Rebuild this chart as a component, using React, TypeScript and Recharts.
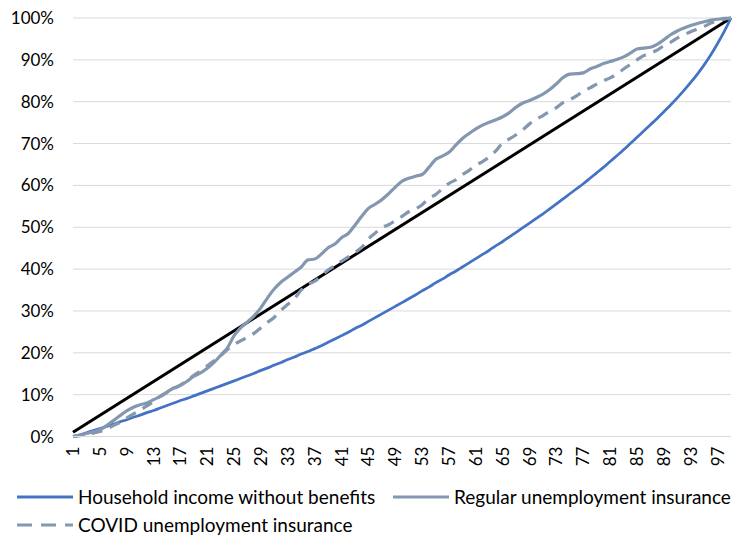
import React from "react";
import { LineChart, Line, XAxis, YAxis, CartesianGrid } from "recharts";

const percentiles = [
  1, 2, 3, 4, 5, 6, 7, 8, 9, 10, 11, 12, 13, 14, 15, 16, 17, 18, 19, 20,
  21, 22, 23, 24, 25, 26, 27, 28, 29, 30, 31, 32, 33, 34, 35, 36, 37, 38, 39, 40,
  41, 42, 43, 44, 45, 46, 47, 48, 49, 50, 51, 52, 53, 54, 55, 56, 57, 58, 59, 60,
  61, 62, 63, 64, 65, 66, 67, 68, 69, 70, 71, 72, 73, 74, 75, 76, 77, 78, 79, 80,
  81, 82, 83, 84, 85, 86, 87, 88, 89, 90, 91, 92, 93, 94, 95, 96, 97, 98, 99,
];

const householdIncome = [
  0, 0.4, 0.9, 1.4, 1.9, 2.4, 2.9, 3.5, 4.0, 4.6, 5.1, 5.7, 6.2, 6.8, 7.4, 8.0, 8.6, 9.1, 9.7, 10.3,
  10.9, 11.5, 12.1, 12.7, 13.3, 13.9, 14.5, 15.1, 15.8, 16.4, 17.1, 17.7, 18.4, 19.0, 19.7, 20.3, 21.0, 21.7, 22.5, 23.3,
  24.1, 24.9, 25.8, 26.6, 27.5, 28.4, 29.3, 30.2, 31.1, 32.0, 32.9, 33.8, 34.8, 35.7, 36.7, 37.6, 38.6, 39.5, 40.5, 41.5,
  42.5, 43.5, 44.5, 45.6, 46.6, 47.7, 48.8, 49.9, 51.0, 52.1, 53.2, 54.4, 55.6, 56.8, 58.0, 59.2, 60.4, 61.7, 63.0, 64.3,
  65.7, 67.1, 68.5, 70.0, 71.5, 73.0, 74.5, 76.0, 77.6, 79.2, 80.9, 82.7, 84.6, 86.6, 88.8, 91.2, 93.9, 96.8, 100,
];

const regularUI = [
  0, 0.3, 0.7, 1.1, 1.6, 2.6, 3.8, 5.0, 6.1, 7.0, 7.6, 8.0, 8.8, 9.6, 10.6, 11.6, 12.2, 13.2, 14.4, 15.2,
  16.3, 17.7, 19.4, 21.2, 24.1, 26.0, 27.4, 28.9, 30.8, 33.2, 35.3, 36.9, 38.1, 39.3, 40.5, 42.2, 42.4, 43.6, 45.1, 46.0,
  47.5, 48.5, 50.5, 52.6, 54.5, 55.5, 56.6, 58.0, 59.6, 61.0, 61.7, 62.2, 62.6, 64.3, 66.2, 67.0, 67.9, 69.6, 71.2, 72.4,
  73.5, 74.4, 75.1, 75.7, 76.4, 77.4, 78.7, 79.7, 80.3, 81.0, 81.8, 82.9, 84.3, 85.8, 86.6, 86.7, 86.9, 87.8, 88.4, 89.1,
  89.6, 90.1, 90.7, 91.6, 92.6, 92.8, 93.0, 93.7, 94.8, 96.0, 96.9, 97.6, 98.2, 98.7, 99.1, 99.5, 99.7, 99.9, 100,
];

const covidUI = [
  0, 0.2, 0.5, 0.8, 1.2, 1.8, 2.6, 3.4, 4.4, 5.4, 6.3, 7.3, 8.4, 9.6, 10.5, 11.4, 12.3, 13.4, 14.6, 15.7,
  16.9, 18.1, 19.3, 20.8, 22.0, 22.9, 23.7, 24.7, 26.0, 27.3, 28.5, 30.2, 31.6, 33.0, 35.0, 36.4, 37.1, 38.4, 39.8, 40.8,
  41.9, 42.9, 44.0, 45.2, 47.2, 48.6, 49.9, 50.6, 51.6, 52.6, 53.7, 54.4, 55.4, 56.9, 57.8, 59.2, 60.5, 61.3, 62.6, 63.6,
  64.8, 65.7, 66.8, 68.3, 70.2, 71.1, 72.1, 73.3, 74.7, 75.8, 76.7, 77.7, 78.6, 79.8, 80.5, 81.4, 82.5, 83.3, 84.2, 85.0,
  85.7, 86.6, 87.8, 88.9, 90.0, 91.0, 91.6, 92.3, 93.4, 94.2, 95.2, 96.0, 96.7, 97.4, 98.0, 98.8, 99.3, 99.7, 100,
];

// Line of equality: only its two end values, joined by connectNulls
const equalityEnds = [1, 100];

const yTicks = [0, 10, 20, 30, 40, 50, 60, 70, 80, 90, 100];

const seriesNames = [
  "Household income without benefits",
  "Regular unemployment insurance",
  "COVID unemployment insurance",
];

const BLUE = "#4472C4";
const GRAY = "#8497B0";
const FONT = "Lato, 'Noto Sans', sans-serif";

const data = percentiles.map((p, i) => ({
  p,
  household: householdIncome[i],
  regular: regularUI[i],
  covid: covidUI[i],
  equality: i === 0 ? equalityEnds[0] : i === percentiles.length - 1 ? equalityEnds[1] : null,
}));

const XTick = (props: any) => {
  const { x, y, payload } = props;
  const ty = y + 10;
  return (
    <text
      x={x}
      y={ty}
      transform={`rotate(-90, ${x}, ${ty})`}
      textAnchor="end"
      dy="0.35em"
      fill="#000"
      fontSize={17}
      fontFamily={FONT}
    >
      {payload.value}
    </text>
  );
};

const LegendItem = ({ color, dash, label, left, top }: any) => (
  <div
    style={{
      position: "absolute",
      left,
      top,
      display: "flex",
      alignItems: "center",
      whiteSpace: "nowrap",
    }}
  >
    <svg width={56} height={10} style={{ display: "block" }}>
      <line x1={0} y1={5} x2={56} y2={5} stroke={color} strokeWidth={3} strokeDasharray={dash} />
    </svg>
    <span style={{ marginLeft: 5, fontSize: 19, fontFamily: FONT, color: "#000", lineHeight: "22px" }}>
      {label}
    </span>
  </div>
);

export default function App() {
  return (
    <div style={{ position: "absolute", left: 0, top: 0, width: 733, height: 541, background: "#fff" }}>
      <LineChart
        width={733}
        height={541}
        data={data}
        margin={{ top: 18, right: 2, bottom: 0, left: 0 }}
      >
        <CartesianGrid vertical={false} stroke="#D9D9D9" strokeWidth={1} />
        <XAxis
          dataKey="p"
          type="category"
          interval={3}
          height={104.5}
          tickLine={false}
          tickSize={0}
          tickMargin={0}
          axisLine={{ stroke: "#D9D9D9" }}
          tick={<XTick />}
        />
        <YAxis
          domain={[0, 100]}
          ticks={yTicks}
          width={73}
          axisLine={false}
          tickLine={false}
          tickSize={0}
          tickMargin={19}
          tickFormatter={(v: number) => `${v}%`}
          tick={{ fill: "#000", fontSize: 17, fontFamily: FONT }}
        />
        <Line
          dataKey="equality"
          stroke="#000"
          strokeWidth={3}
          dot={false}
          connectNulls
          isAnimationActive={false}
        />
        <Line
          dataKey="household"
          stroke={BLUE}
          strokeWidth={2.75}
          dot={false}
          type="monotone"
          isAnimationActive={false}
        />
        <Line
          dataKey="regular"
          stroke={GRAY}
          strokeWidth={3.2}
          dot={false}
          type="monotone"
          isAnimationActive={false}
        />
        <Line
          dataKey="covid"
          stroke={GRAY}
          strokeWidth={3.2}
          strokeDasharray="11 8"
          dot={false}
          type="monotone"
          isAnimationActive={false}
        />
      </LineChart>
      <LegendItem color={BLUE} label={seriesNames[0]} left={17} top={486} />
      <LegendItem color={GRAY} label={seriesNames[1]} left={393} top={486} />
      <LegendItem color={GRAY} dash="15 9" label={seriesNames[2]} left={17} top={514} />
    </div>
  );
}
